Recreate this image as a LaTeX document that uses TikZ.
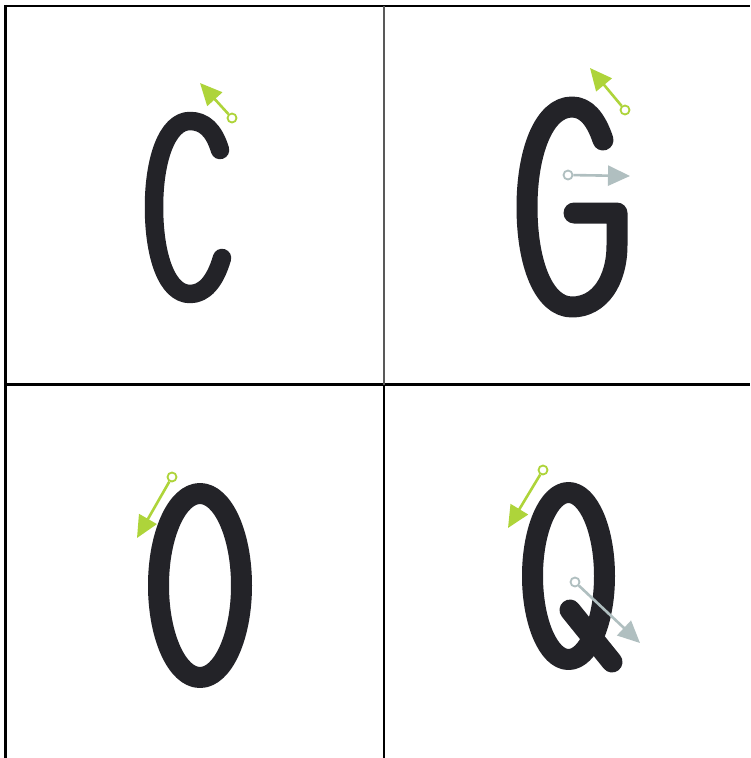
\documentclass[tikz,border=0pt]{standalone}
\usetikzlibrary{arrows.meta}
\definecolor{glyph}{HTML}{232328}
\definecolor{lime}{HTML}{AED43A}
\definecolor{steel}{HTML}{B0BFC0}
\tikzset{
  letter/.style={draw=glyph, line width=19pt, line cap=round, line join=round},
  rule/.style={draw=black, line width=2.5pt},
  ring/.style={circle, draw, line width=1.8pt, inner sep=0pt, minimum size=9pt, fill=white},
  greenring/.style={ring, draw=lime},
  grayring/.style={ring, draw=steel},
  greenarrow/.style={draw=lime, line width=2.6pt, -{Triangle[length=22pt,width=20pt]}},
  grayarrow/.style={draw=steel, line width=2.6pt, -{Triangle[length=22pt,width=20pt]}},
}
\begin{document}
\begin{tikzpicture}[x=1pt,y=-1pt]
\useasboundingbox (0,0) rectangle (750,758);
\fill[white] (0,0) rectangle (750,758);
% grid
\coordinate (tl) at (4.5,6);
\coordinate (tr) at (750,6);
\coordinate (lt) at (5.5,4.8);
\coordinate (lb) at (5.5,758);
\coordinate (ml) at (5,384.5);
\coordinate (mr) at (750,384.5);
\coordinate (vt) at (384,6);
\coordinate (vm) at (384,384.5);
\coordinate (vb) at (384,758);
\draw[rule] (tl) -- (tr);
\draw[rule] (lt) -- (lb);
\draw[rule] (ml) -- (mr);
\draw[draw=black!65, line width=1.4pt] (vt) -- (vm);
\draw[rule] (vm) -- (vb);
% C
\draw[letter, line width=18.5pt] (220,150) .. controls (214,130) and (204,121) .. (190,121)
  .. controls (167,121) and (154,160) .. (154,207)
  .. controls (154,256) and (167,294) .. (190,294)
  .. controls (204,294) and (215,282) .. (222,258);
\node[greenring] (c1) at (232,118) {};
\coordinate (t1) at (200,83);
\draw[greenarrow] (c1) -- (t1);
% G
\draw[letter, line width=21pt] (603,140) .. controls (596,119) and (586,107) .. (572,107)
  .. controls (544,107) and (527,152) .. (527,207)
  .. controls (527,264) and (544,307) .. (572,307)
  .. controls (600,307) and (617,280) .. (617,245)
  -- (617,213) -- (574,213);
\node[greenring] (c2) at (625,110) {};
\coordinate (t2) at (590,68);
\draw[greenarrow] (c2) -- (t2);
\node[grayring] (c3) at (568,175) {};
\coordinate (t3) at (630,176);
\draw[grayarrow] (c3) -- (t3);
% O
\draw[letter, line width=21pt] (200,585.5) ellipse [x radius=41.5, y radius=92];
\node[greenring] (c4) at (172,477) {};
\coordinate (t4) at (137,538);
\draw[greenarrow] (c4) -- (t4);
% Q
\draw[letter, line width=21pt] (568.5,576) ellipse [x radius=36, y radius=83.5];
\draw[letter, line width=21pt] (570,610) -- (612,662);
\node[greenring] (c5) at (543,470) {};
\coordinate (t5) at (508,528);
\draw[greenarrow] (c5) -- (t5);
\node[grayring] (c6) at (575,582) {};
\coordinate (t6) at (640,643);
\draw[grayarrow] (c6) -- (t6);
\end{tikzpicture}
\end{document}
